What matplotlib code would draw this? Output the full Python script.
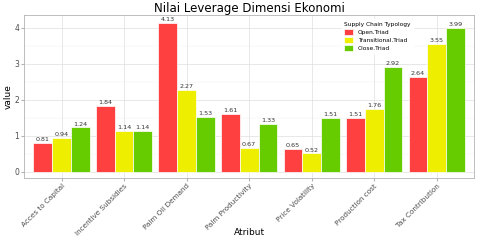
import matplotlib
matplotlib.use("Agg")
import matplotlib.pyplot as plt
import numpy as np

categories = ["Acces to Capital", "Incentive Subsidies", "Palm Oil Demand",
              "Palm Productivity", "Price Volatility", "Production cost", "Tax Contribution"]
open_triad = [0.81, 1.84, 4.13, 1.61, 0.65, 1.51, 2.64]
transitional_triad = [0.94, 1.14, 2.27, 0.67, 0.52, 1.76, 3.55]
close_triad = [1.24, 1.14, 1.53, 1.33, 1.51, 2.92, 3.99]

series = [("Open.Triad", open_triad, "#FF4040"),
          ("Transitional.Triad", transitional_triad, "#EEEE00"),
          ("Close.Triad", close_triad, "#66CC00")]

fig = plt.figure(figsize=(4.8, 2.4), dpi=100)
ax = fig.add_axes([0.05, 0.258, 0.938, 0.68])

x = np.arange(len(categories))
w = 0.3
for i, (name, vals, col) in enumerate(series):
    pos = x + (i - 1) * w
    ax.bar(pos, vals, width=w, color=col, edgecolor="white", linewidth=0.5,
           label=name, zorder=3)
    for px, v in zip(pos, vals):
        ax.text(px, v + 0.02, f"{v:.2f}", ha="center", va="bottom",
                fontsize=4.6, color="#333333", zorder=4)

ax.set_xlim(-0.6, 6.6)
ax.set_ylim(-0.17, 4.36)
ax.set_yticks([0, 1, 2, 3, 4])
ax.set_yticks([0.5, 1.5, 2.5, 3.5], minor=True)
ax.set_xticks(x)
ax.set_xticklabels(categories, rotation=45, ha="right", rotation_mode="anchor",
                   fontsize=5.2, color="#4D4D4D")
ax.tick_params(axis="y", labelsize=5.5, labelcolor="#4D4D4D", length=2, color="#B3B3B3", pad=1.5)
ax.tick_params(axis="x", length=2, color="#B3B3B3", pad=1.5)
ax.tick_params(axis="y", which="minor", length=0)
ax.grid(True, which="major", color="#DEDEDE", linewidth=0.5, zorder=0)
ax.grid(True, which="minor", axis="y", color="#EFEFEF", linewidth=0.3, zorder=0)
for s in ax.spines.values():
    s.set_color("#B3B3B3")
    s.set_linewidth(0.6)

ax.set_ylabel("value", fontsize=6.5, labelpad=1)
fig.text(0.519, 0.033, "Atribut", ha="center", va="center", fontsize=6.5)
ax.set_title("Nilai Leverage Dimensi Ekonomi", fontsize=8.5, pad=2)

leg = ax.legend(title="Supply Chain Typology", fontsize=4.2, title_fontsize=4.2,
                loc="upper right", bbox_to_anchor=(0.87, 0.99), frameon=True,
                handlelength=1.6, handleheight=1.3, borderpad=0.4, labelspacing=0.3,
                alignment="left")
leg.get_frame().set_edgecolor("white")
leg.get_frame().set_facecolor("white")
leg.get_frame().set_alpha(1)

fig.savefig("out.png", dpi=100)
